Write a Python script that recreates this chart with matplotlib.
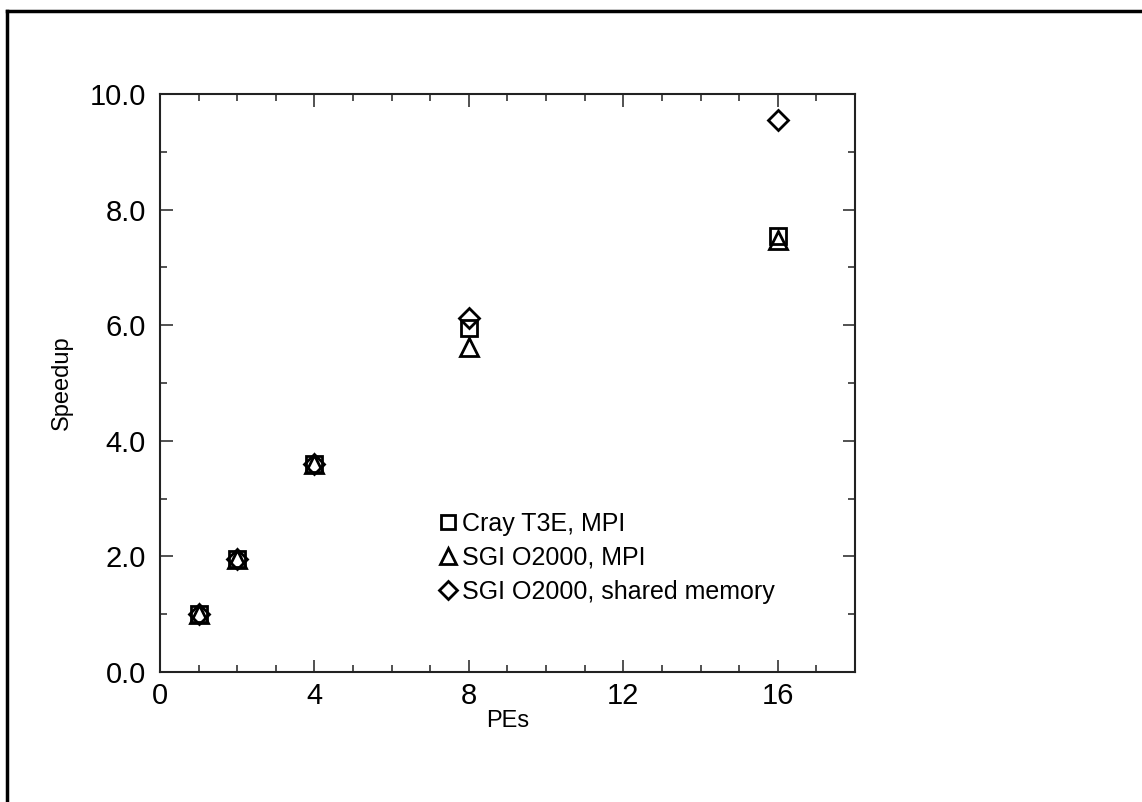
import matplotlib.pyplot as plt
from matplotlib.lines import Line2D
from matplotlib.ticker import MultipleLocator

pes = [1, 2, 4, 8, 16]
cray_mpi = [1.0, 1.96, 3.6, 5.96, 7.55]
sgi_mpi = [1.0, 1.96, 3.6, 5.62, 7.48]
sgi_shared = [1.0, 1.96, 3.6, 6.12, 9.55]
labels = ['Cray T3E, MPI', 'SGI O2000, MPI', 'SGI O2000, shared memory']

plt.rcParams['font.family'] = ['Liberation Sans', 'DejaVu Sans']

fig = plt.figure(figsize=(11.42, 8.02), dpi=100)
ax = fig.add_axes([160 / 1142, 1 - 672 / 802, 695 / 1142, 578 / 802])

style = dict(linestyle='none', markerfacecolor='none', markeredgecolor='black',
             markeredgewidth=2, clip_on=False)
ax.plot(pes, cray_mpi, marker='s', markersize=11, label=labels[0], **style)
ax.plot(pes, sgi_mpi, marker='^', markersize=13, label=labels[1], **style)
ax.plot(pes, sgi_shared, marker='D', markersize=10, label=labels[2], **style)

ax.set_xlim(0, 18)
ax.set_ylim(0, 10)
ax.xaxis.set_major_locator(MultipleLocator(4))
ax.xaxis.set_minor_locator(MultipleLocator(1))
ax.yaxis.set_major_locator(MultipleLocator(2))
ax.yaxis.set_minor_locator(MultipleLocator(1))
ax.yaxis.set_major_formatter(lambda v, pos: f'{v:.1f}')
ax.tick_params(which='both', direction='in', top=True, right=True,
               labelsize=21, color='#333333')
ax.tick_params(which='major', length=9, width=1.2, pad=10)
ax.tick_params(which='minor', length=5, width=1.2)
ax.tick_params(axis='x', which='major', pad=7)
for spine in ax.spines.values():
    spine.set_linewidth(1.5)
    spine.set_color('#222222')

ax.set_xlabel('PEs', fontsize=17, labelpad=0)
ax.set_ylabel('Speedup', fontsize=17, labelpad=12)

handles = [Line2D([], [], marker=m, markersize=s, **style) for m, s in
           (('s', 10), ('^', 12), ('D', 9))]
ax.legend(handles, labels, loc='upper left', bbox_to_anchor=(0.4, 0.277),
          frameon=False, fontsize=18, handlelength=0.8, handletextpad=0.15,
          labelspacing=0.4, borderpad=0, borderaxespad=0)

# outer frame of the page
fig.add_artist(Line2D([7 / 1142, 1.0], [1 - 11 / 802] * 2, color='black',
                      linewidth=2.5, transform=fig.transFigure))
fig.add_artist(Line2D([7 / 1142] * 2, [0.0, 1 - 11 / 802], color='black',
                      linewidth=2.5, transform=fig.transFigure))

fig.savefig('out.png', dpi=100)
